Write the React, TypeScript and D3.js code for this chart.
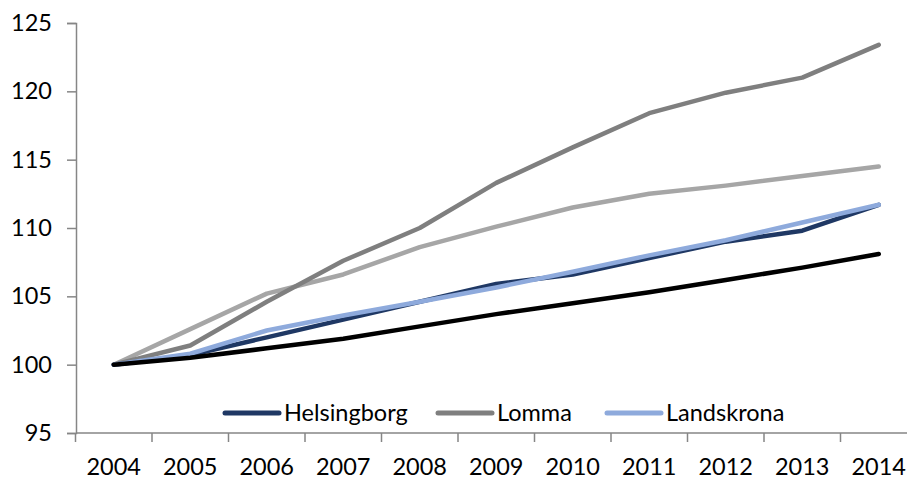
import React, { useRef, useEffect } from "react";
import * as d3 from "d3";

const years = ["2004", "2005", "2006", "2007", "2008", "2009", "2010", "2011", "2012", "2013", "2014"];
const helsingborg = [100, 100.7, 102.0, 103.3, 104.6, 105.9, 106.6, 107.8, 109.0, 109.8, 111.7];
const lomma = [100, 101.4, 104.6, 107.6, 110.0, 113.3, 115.9, 118.4, 119.9, 121.0, 123.4];
const landskrona = [100, 100.8, 102.5, 103.6, 104.6, 105.65, 106.8, 108.0, 109.1, 110.4, 111.7];
const otherUpper = [100, 102.6, 105.2, 106.6, 108.6, 110.1, 111.5, 112.5, 113.1, 113.8, 114.5];
const otherLower = [100, 100.5, 101.2, 101.9, 102.8, 103.7, 104.5, 105.3, 106.2, 107.1, 108.1];
const yTicks = [95, 100, 105, 110, 115, 120, 125];

interface Series {
  name: string;
  values: number[];
  color: string;
  legend: boolean;
}

// drawing order: back to front
const series: Series[] = [
  { name: "Övrig 1", values: otherUpper, color: "#a6a6a6", legend: false },
  { name: "Lomma", values: lomma, color: "#7f7f7f", legend: true },
  { name: "Helsingborg", values: helsingborg, color: "#1f3864", legend: true },
  { name: "Landskrona", values: landskrona, color: "#8eaadc", legend: true },
  { name: "Övrig 2", values: otherLower, color: "#000000", legend: false },
];
const legendOrder = ["Helsingborg", "Lomma", "Landskrona"];

const width = 907;
const height = 479;
const font = "Lato, 'Open Sans', sans-serif";
const fontSize = 23.5;

const App = () => {
  const node: any = useRef();

  useEffect(() => {
    const svg = d3.select(node.current);
    svg.selectAll("*").remove();

    const x = d3.scaleBand().domain(years).range([75.5, 917]).padding(0);
    const y = d3.scaleLinear().domain([95, 125]).range([433, 23]);
    const cx = (yr: string) => (x(yr) as number) + x.bandwidth() / 2;

    // y axis
    const yAxis = svg
      .append("g")
      .attr("transform", "translate(76,0)")
      .call(d3.axisLeft(y).tickValues(yTicks).tickSize(9).tickPadding(15).tickFormat(d3.format("d")));
    yAxis.select(".domain").attr("stroke", "#868686").attr("stroke-width", 1.5);
    yAxis.selectAll(".tick line").attr("stroke", "#868686").attr("stroke-width", 1.5);
    yAxis
      .selectAll(".tick text")
      .attr("font-family", font)
      .attr("font-size", fontSize)
      .attr("fill", "#000");

    // x axis: line plus ticks at category boundaries
    const xg = svg.append("g");
    xg.append("line")
      .attr("x1", 76)
      .attr("x2", width)
      .attr("y1", y(95))
      .attr("y2", y(95))
      .attr("stroke", "#868686")
      .attr("stroke-width", 1.5);
    xg.selectAll("line.tick")
      .data(years)
      .enter()
      .append("line")
      .attr("class", "tick")
      .attr("x1", (d) => x(d) as number)
      .attr("x2", (d) => x(d) as number)
      .attr("y1", y(95))
      .attr("y2", y(95) + 9)
      .attr("stroke", "#868686")
      .attr("stroke-width", 1.5);
    xg.selectAll("text")
      .data(years)
      .enter()
      .append("text")
      .attr("x", (d) => cx(d))
      .attr("y", 475)
      .attr("text-anchor", "middle")
      .attr("font-family", font)
      .attr("font-size", fontSize)
      .attr("fill", "#000")
      .text((d) => d);

    // lines
    const line = d3
      .line<number>()
      .x((_, i) => cx(years[i]))
      .y((d) => y(d));
    svg
      .selectAll("path.series")
      .data(series)
      .enter()
      .append("path")
      .attr("class", "series")
      .attr("d", (s) => line(s.values))
      .attr("fill", "none")
      .attr("stroke", (s) => s.color)
      .attr("stroke-width", 4.5)
      .attr("stroke-linejoin", "round")
      .attr("stroke-linecap", "round");

    // legend
    const legendX = [225, 438, 607];
    const lg = svg.append("g").attr("transform", `translate(0,${413})`);
    legendOrder.forEach((name, i) => {
      const s = series.find((d) => d.name === name)!;
      const g = lg.append("g").attr("transform", `translate(${legendX[i]},0)`);
      g.append("line")
        .attr("x1", 0)
        .attr("x2", 54)
        .attr("y1", 0)
        .attr("y2", 0)
        .attr("stroke", s.color)
        .attr("stroke-width", 5)
        .attr("stroke-linecap", "round");
      g.append("text")
        .attr("x", 59)
        .attr("y", 0)
        .attr("dy", "0.35em")
        .attr("font-family", font)
        .attr("font-size", fontSize)
        .attr("fill", "#000")
        .text(name);
    });
  }, []);

  return (
    <div style={{ position: "absolute", left: 0, top: 0, width, height, background: "#fff" }}>
      <svg ref={node} width={width} height={height}></svg>
    </div>
  );
};

export default App;
